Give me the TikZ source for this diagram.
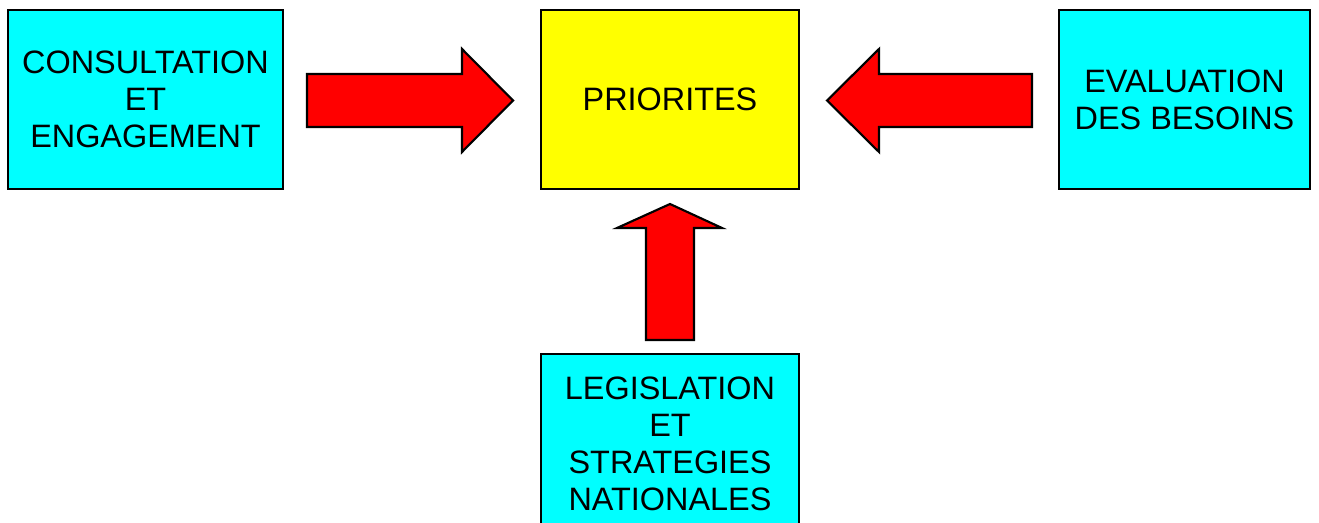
\documentclass[tikz,border=0pt]{standalone}
\usepackage{fontspec}
\setmainfont{Liberation Sans}
\usepackage{tikz}

\definecolor{boxcyan}{RGB}{0,255,255}
\definecolor{boxyellow}{RGB}{255,255,0}
\definecolor{arrowred}{RGB}{255,0,0}

\tikzset{
  box/.style={draw, line width=2.2pt, minimum height=179*0.75pt, align=center,
    inner sep=0pt, font=\fontsize{24.3pt}{27.75pt}\selectfont},
  bigarrow/.style={draw, line width=1.6pt, fill=arrowred, line join=miter}
}

\begin{document}
\begin{tikzpicture}[x=0.75pt, y=-0.75pt]
\clip (0,0) rectangle (1319,523);
\fill[white] (0,0) rectangle (1319,523);

\node[box, fill=boxcyan, minimum width=275*0.75pt] (consult) at (145.5,99.5) {CONSULTATION\\ET\\ENGAGEMENT};
\node[box, fill=boxyellow, minimum width=258*0.75pt] (prio) at (670,99.5) {PRIORITES};
\node[box, fill=boxcyan, minimum width=251*0.75pt] (besoins) at (1184.5,99.5) {EVALUATION\\DES BESOINS};
\node[box, fill=boxcyan, minimum width=258*0.75pt] (legis) at (670,443.5) {LEGISLATION\\ET\\STRATEGIES\\NATIONALES};

% arrows into the priorities box
\draw[bigarrow] (307,74) -- (462,74) -- (462,49) -- (513,100.5) -- (462,152) -- (462,127) -- (307,127) -- cycle;
\draw[bigarrow] (1032,74) -- (879,74) -- (879,49) -- (827,100.5) -- (879,152) -- (879,127) -- (1032,127) -- cycle;
\draw[bigarrow] (646,340) -- (646,228) -- (617,228) -- (670,204) -- (722,228) -- (694,228) -- (694,340) -- cycle;

\end{tikzpicture}
\end{document}
